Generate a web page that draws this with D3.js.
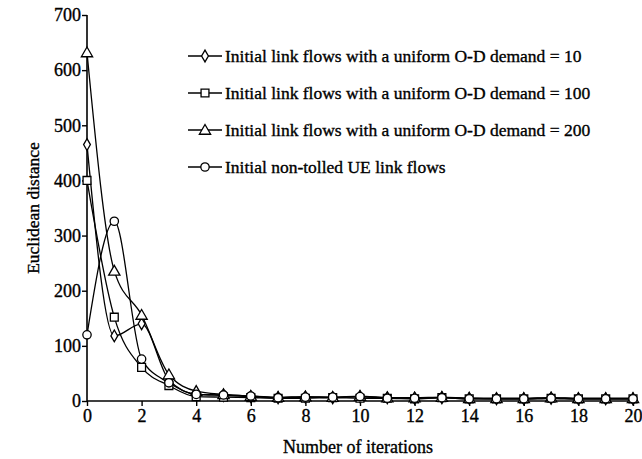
<!DOCTYPE html>
<html>
<head>
<meta charset="utf-8">
<script src="https://cdn.jsdelivr.net/npm/d3@7"></script>
<style>
  body { margin: 0; background: #fff; }
  text { font-family: "Liberation Serif", "DejaVu Serif", serif; fill: #000; stroke: #000; stroke-width: 0.35; }
</style>
</head>
<body>
<script>
// iterations 0..20
const iterations = d3.range(0, 21);

// demand = 10 (diamond)
const demand10 = [465, 118, 140, 38, 12, 10, 8, 6, 7, 6, 8, 6, 5, 6, 5, 4, 4, 5, 4, 4, 4];
// demand = 100 (square)
const demand100 = [400, 152, 61, 28, 8, 7, 6, 5, 5, 6, 5, 5, 4, 6, 4, 4, 4, 5, 4, 4, 4];
// demand = 200 (triangle)
const demand200 = [632, 236, 156, 48, 18, 12, 9, 7, 8, 7, 9, 6, 6, 7, 5, 5, 5, 6, 5, 5, 5];
// non-tolled UE (circle)
const nonTolled = [120, 326, 76, 33, 12, 11, 9, 6, 7, 7, 8, 5, 5, 6, 4, 4, 4, 5, 4, 4, 4];

const seriesNames = [
  "Initial link flows with a uniform O-D demand = 10",
  "Initial link flows with a uniform O-D demand = 100",
  "Initial link flows with a uniform O-D demand = 200",
  "Initial non-tolled UE link flows"
];
const seriesSymbols = ["diamond", "square", "triangle", "circle"];
const seriesValues = [demand10, demand100, demand200, nonTolled];

const yTicks = [0, 100, 200, 300, 400, 500, 600, 700];
const xTicks = [0, 2, 4, 6, 8, 10, 12, 14, 16, 18, 20];

const width = 642, height = 459;
const margin = { top: 15, right: 9, bottom: 58, left: 87 };

const svg = d3.select("body").append("svg")
  .attr("width", width)
  .attr("height", height);

const x = d3.scaleLinear().domain([0, 20]).range([margin.left, width - margin.right]);
const y = d3.scaleLinear().domain([0, 700]).range([height - margin.bottom, margin.top]);

// axes
const xAxis = svg.append("g")
  .attr("transform", `translate(0,${y(0)})`)
  .call(d3.axisBottom(x).tickValues(xTicks).tickSize(5).tickPadding(3).tickFormat(d3.format("d")));
const yAxis = svg.append("g")
  .attr("transform", `translate(${x(0)},0)`)
  .call(d3.axisLeft(y).tickValues(yTicks).tickSize(5).tickPadding(1).tickFormat(d3.format("d")));

[xAxis, yAxis].forEach(g => {
  g.select(".domain").attr("stroke", "#000").attr("stroke-width", 1.6);
  g.selectAll(".tick line").attr("stroke", "#000").attr("stroke-width", 1.4);
  g.selectAll(".tick text")
    .style("font-family", "'Liberation Serif', serif")
    .style("font-size", "18px")
    .attr("fill", "#000")
    .attr("stroke", "#000")
    .attr("stroke-width", 0.35);
});
// axis path without the outer end caps
xAxis.select(".domain").attr("d", `M${x(0)},0H${x(20)}`);
yAxis.select(".domain").attr("d", `M0,${y(0)}V${y(700)}`);

// axis labels
svg.append("text")
  .attr("x", 358)
  .attr("y", 453)
  .attr("text-anchor", "middle")
  .style("font-size", "18px")
  .text("Number of iterations");

svg.append("text")
  .attr("transform", `translate(39,${y(350)}) rotate(-90)`)
  .attr("text-anchor", "middle")
  .style("font-size", "17.5px")
  .text("Euclidean distance");

// symbols
const symbolType = {
  diamond: d3.symbolDiamond,
  square: d3.symbolSquare,
  triangle: d3.symbolTriangle,
  circle: d3.symbolCircle
};
const symbolSize = { diamond: 40, square: 62, triangle: 55, circle: 55 };

function drawSymbol(g, kind, cx, cy) {
  g.append("path")
    .attr("d", d3.symbol().type(symbolType[kind]).size(symbolSize[kind])())
    .attr("transform", `translate(${cx},${cy + (kind === "triangle" ? 1 : 0)})`)
    .attr("fill", "#fff")
    .attr("stroke", "#000")
    .attr("stroke-width", 1.3);
}

const line = d3.line()
  .x((d, i) => x(iterations[i]))
  .y(d => y(d))
  .curve(d3.curveMonotoneX);

const plot = svg.append("g");

seriesValues.forEach(vals => {
  plot.append("path")
    .attr("d", line(vals))
    .attr("fill", "none")
    .attr("stroke", "#000")
    .attr("stroke-width", 1.3);
});

seriesValues.forEach((vals, s) => {
  const g = plot.append("g");
  vals.forEach((v, i) => drawSymbol(g, seriesSymbols[s], x(iterations[i]), y(v)));
});

// legend
const legend = svg.append("g");
seriesNames.forEach((name, i) => {
  const ly = 56 + i * 37;
  legend.append("line")
    .attr("x1", 188).attr("x2", 222)
    .attr("y1", ly).attr("y2", ly)
    .attr("stroke", "#000").attr("stroke-width", 1.3);
  drawSymbol(legend, seriesSymbols[i], 205, ly);
  legend.append("text")
    .attr("x", 225)
    .attr("y", ly + 6)
    .style("font-size", "17.5px")
    .text(name);
});
</script>
</body>
</html>
